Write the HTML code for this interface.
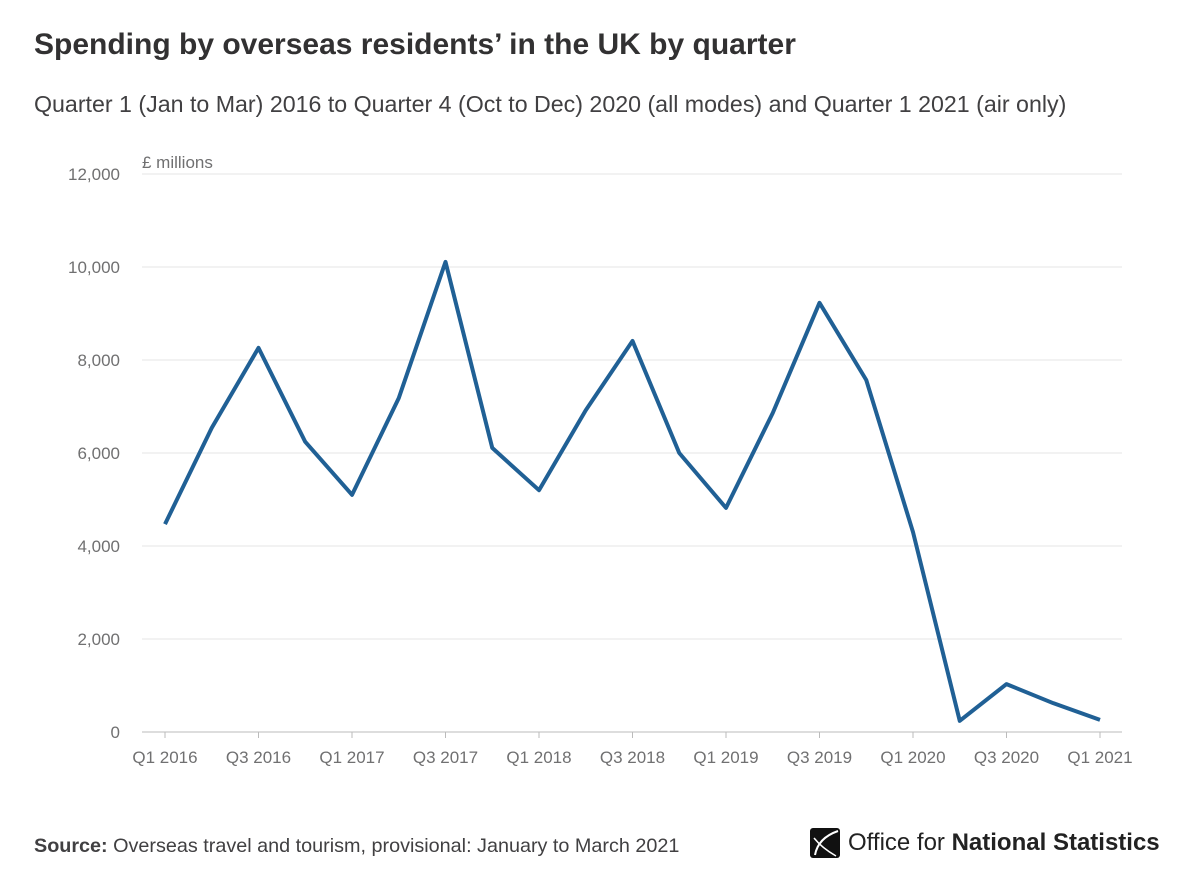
<!DOCTYPE html>
<html><head><meta charset="utf-8"><style>
body{margin:0;width:1200px;height:888px;background:#fff;font-family:"Liberation Sans",sans-serif;overflow:hidden;position:relative}
.t{position:absolute;left:34px;top:28px;font-size:30px;font-weight:bold;color:#323132}
.s{position:absolute;left:34px;top:91px;font-size:23.2px;color:#414042}
.src{position:absolute;left:34px;top:835px;font-size:19.8px;color:#414042}
.logo{position:absolute;left:810px;top:828px;font-size:24px;color:#222;display:flex;align-items:center;gap:8px}
</style></head><body>
<div class="t">Spending by overseas residents’ in the UK by quarter</div>
<div class="s">Quarter 1 (Jan to Mar) 2016 to Quarter 4 (Oct to Dec) 2020 (all modes) and Quarter 1 2021 (air only)</div>
<svg id="c" width="1200" height="800" style="position:absolute;left:0;top:0"></svg>
<div class="src"><b>Source:</b> Overseas travel and tourism, provisional: January to March 2021</div>
<div class="logo"><svg width="30" height="30" viewBox="0 0 30 30"><rect width="30" height="30" rx="3" fill="#111"/><path d="M28 3 Q8 10 5 27" stroke="#fff" stroke-width="2" fill="none"/><path d="M4 10 Q12 20 26 28" stroke="#fff" stroke-width="1.5" fill="none"/></svg><span>Office for <b style="font-weight:600">National Statistics</b></span></div>
<script>
const categories=["Q1 2016","Q2 2016","Q3 2016","Q4 2016","Q1 2017","Q2 2017","Q3 2017","Q4 2017","Q1 2018","Q2 2018","Q3 2018","Q4 2018","Q1 2019","Q2 2019","Q3 2019","Q4 2019","Q1 2020","Q2 2020","Q3 2020","Q4 2020","Q1 2021"];
const values=[4470,6540,8260,6240,5100,7180,10110,6110,5200,6920,8410,6000,4820,6860,9230,7570,4300,240,1030,620,260];
const yTicks=[0,2000,4000,6000,8000,10000,12000];
const ns="http://www.w3.org/2000/svg";
const svg=document.getElementById('c');
const x=i=>165+i*(1100-165)/(categories.length-1);
const y=v=>732-v*(732-174)/12000;
function el(t,a){const e=document.createElementNS(ns,t);for(const k in a)e.setAttribute(k,a[k]);svg.appendChild(e);return e;}
yTicks.forEach(v=>{
 const g=el('line',{x1:142,x2:1122,y1:y(v),y2:y(v),stroke:v===0?'#bbb':'#e4e4e4','stroke-width':1});
 
 
 const t=el('text',{x:120,y:y(v)+6,'text-anchor':'end','font-size':17,fill:'#707071'});
 t.textContent=v.toLocaleString('en-GB');
 
 
});
const u=el('text',{x:142,y:168,'font-size':17,fill:'#707071'});u.textContent='£ millions';


categories.forEach((c,i)=>{
 if(i%2)return;
 const tk=el('line',{x1:x(i),x2:x(i),y1:732,y2:738,stroke:'#bbb'});
 
 
 const t=el('text',{x:x(i),y:763,'text-anchor':'middle','font-size':17,fill:'#707071'});
 t.textContent=c;
 
 
});
const p=el('polyline',{points:values.map((v,i)=>x(i)+','+y(v)).join(' '),fill:'none',stroke:'#206095','stroke-width':4,'stroke-linejoin':'round'});


</script>
</body></html>
